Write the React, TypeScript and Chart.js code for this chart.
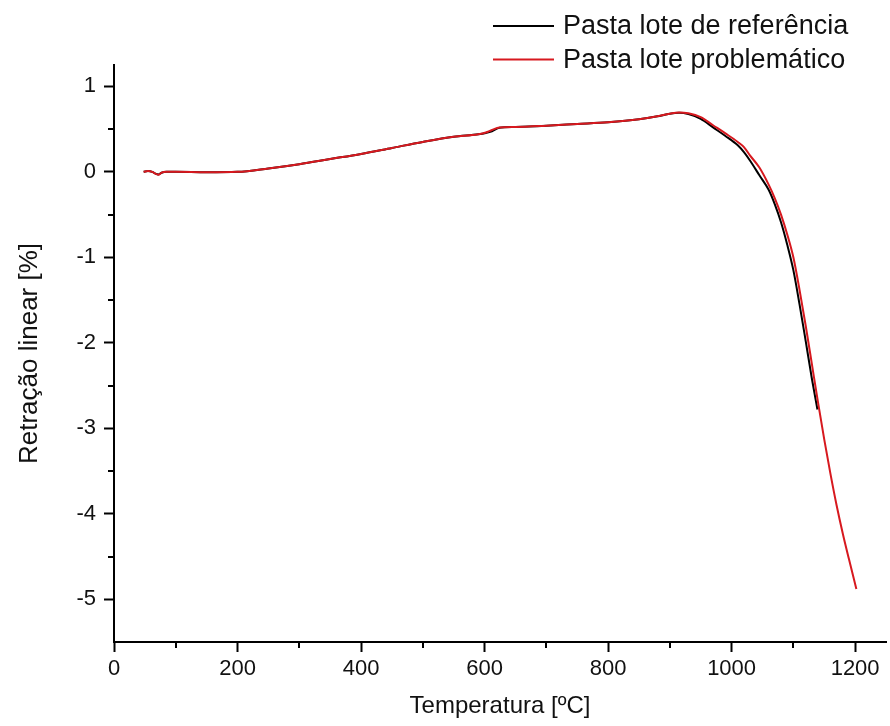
import React, { useEffect, useRef } from "react";
import { Chart, registerables } from "chart.js";

Chart.register(...registerables);

// ---- Data ----
const seriesLabels = ["Pasta lote de referência", "Pasta lote problemático"];
const seriesColors = ["#000000", "#d7191f"];

const refTemps = [
  48, 55, 62, 67, 72, 77, 85, 100, 150, 200, 250, 300, 350, 400, 450, 500, 550,
  590, 602, 612, 624, 650, 700, 750, 800, 850, 880, 900, 915, 930, 950, 970, 990,
  1010, 1020, 1030, 1045, 1060, 1070, 1080, 1090, 1100, 1110, 1120, 1130, 1139,
];
const refValues = [
  0, 0.01, 0.0, -0.02, -0.03, -0.01, 0.0, 0.0, -0.005, 0.0, 0.04, 0.09, 0.15,
  0.21, 0.28, 0.35, 0.41, 0.44, 0.455, 0.475, 0.515, 0.525, 0.54, 0.56, 0.58,
  0.615, 0.65, 0.68, 0.69, 0.675, 0.62, 0.52, 0.42, 0.31, 0.23, 0.13, -0.04,
  -0.21, -0.38, -0.59, -0.85, -1.15, -1.55, -1.98, -2.42, -2.78,
];

const probTemps = [
  48, 55, 62, 67, 72, 77, 85, 100, 150, 200, 250, 300, 350, 400, 450, 500, 550,
  590, 602, 612, 624, 650, 700, 750, 800, 850, 880, 900, 915, 930, 950, 970, 990,
  1010, 1020, 1030, 1045, 1060, 1070, 1080, 1090, 1100, 1110, 1120, 1130, 1140,
  1150, 1160, 1170, 1180, 1190, 1202,
];
const probValues = [
  0, 0.01, 0.0, -0.02, -0.035, -0.01, 0.0, 0.0, -0.005, 0.0, 0.04, 0.09, 0.15,
  0.21, 0.28, 0.35, 0.41, 0.44, 0.46, 0.49, 0.52, 0.525, 0.54, 0.56, 0.58, 0.615,
  0.65, 0.68, 0.695, 0.685, 0.64, 0.545, 0.45, 0.35, 0.29, 0.19, 0.05, -0.15,
  -0.31, -0.5, -0.73, -1.0, -1.38, -1.8, -2.25, -2.7, -3.13, -3.53, -3.9, -4.23,
  -4.53, -4.88,
];

const xTickValues = [0, 200, 400, 600, 800, 1000, 1200];
const xMinorTickValues = [100, 300, 500, 700, 900, 1100];
const yTickValues = [-5, -4, -3, -2, -1, 0, 1];
const yMinorTickValues = [-4.5, -3.5, -2.5, -1.5, -0.5, 0.5];
const xTitle = "Temperatura [ºC]";
const yTitle = "Retração linear [%]";

const FONT = "'Liberation Sans', Arial, Helvetica, sans-serif";

const minorTicksPlugin = {
  id: "minorTicks",
  afterDraw(chart: any) {
    const { ctx, chartArea, scales } = chart;
    const x = scales.x;
    const y = scales.y;
    ctx.save();
    ctx.strokeStyle = "#000";
    ctx.lineWidth = 2;
    xMinorTickValues.forEach((v) => {
      const px = Math.round(x.getPixelForValue(v));
      ctx.beginPath();
      ctx.moveTo(px, chartArea.bottom);
      ctx.lineTo(px, chartArea.bottom + 6);
      ctx.stroke();
    });
    yMinorTickValues.forEach((v) => {
      const py = Math.round(y.getPixelForValue(v));
      ctx.beginPath();
      ctx.moveTo(chartArea.left, py);
      ctx.lineTo(chartArea.left - 6, py);
      ctx.stroke();
    });
    ctx.restore();
  },
};

const legendPlugin = {
  id: "cornerLegend",
  afterDraw(chart: any) {
    const { ctx } = chart;
    ctx.save();
    ctx.font = `27px ${FONT}`;
    ctx.textBaseline = "middle";
    ctx.textAlign = "left";
    chart.data.datasets.forEach((ds: any, i: number) => {
      const yy = 26 + i * 33.5;
      ctx.strokeStyle = ds.borderColor;
      ctx.lineWidth = 2;
      ctx.beginPath();
      ctx.moveTo(493, yy);
      ctx.lineTo(554, yy);
      ctx.stroke();
      ctx.fillStyle = "#111";
      ctx.fillText(ds.label, 563, yy + 1);
    });
    ctx.restore();
  },
};

export default function App() {
  const canvasRef = useRef<HTMLCanvasElement | null>(null);

  useEffect(() => {
    if (!canvasRef.current) return;
    const chart = new Chart(canvasRef.current, {
      type: "line",
      data: {
        datasets: [
          {
            label: seriesLabels[0],
            data: refTemps.map((t, i) => ({ x: t, y: refValues[i] })),
            borderColor: seriesColors[0],
            backgroundColor: seriesColors[0],
            borderWidth: 2,
            pointRadius: 0,
            cubicInterpolationMode: "monotone",
            order: 1,
          },
          {
            label: seriesLabels[1],
            data: probTemps.map((t, i) => ({ x: t, y: probValues[i] })),
            borderColor: seriesColors[1],
            backgroundColor: seriesColors[1],
            borderWidth: 2,
            pointRadius: 0,
            cubicInterpolationMode: "monotone",
            order: 0,
          },
        ],
      },
      options: {
        responsive: true,
        maintainAspectRatio: false,
        animation: false,
        layout: { padding: { top: 65, right: 4, left: 0, bottom: 0 } },
        plugins: {
          legend: { display: false },
          tooltip: { enabled: false },
        },
        scales: {
          x: {
            type: "linear",
            min: 0,
            max: 1250,
            afterBuildTicks: (s: any) => {
              s.ticks = xTickValues.map((v) => ({ value: v }));
            },
            afterFit: (s: any) => {
              s.height = 84;
            },
            grid: {
              drawOnChartArea: false,
              drawTicks: true,
              tickLength: 10,
              tickWidth: 2,
              tickColor: "#000",
            },
            border: { display: true, color: "#000", width: 2 },
            ticks: {
              autoSkip: false,
              maxRotation: 0,
              padding: 4,
              color: "#111",
              font: { family: FONT, size: 22 },
              callback: (v: any) => String(v),
            },
            title: {
              display: true,
              text: xTitle,
              color: "#111",
              font: { family: FONT, size: 24 },
              padding: { top: 0, bottom: 5 },
            },
          },
          y: {
            type: "linear",
            min: -5.5,
            max: 1.25,
            afterBuildTicks: (s: any) => {
              s.ticks = yTickValues.map((v) => ({ value: v }));
            },
            afterFit: (s: any) => {
              s.width = 114;
            },
            grid: {
              drawOnChartArea: false,
              drawTicks: true,
              tickLength: 10,
              tickWidth: 2,
              tickColor: "#000",
            },
            border: { display: true, color: "#000", width: 2 },
            ticks: {
              autoSkip: false,
              padding: 8,
              color: "#111",
              font: { family: FONT, size: 22 },
              callback: (v: any) => String(v),
            },
            title: {
              display: true,
              text: yTitle,
              color: "#111",
              font: { family: FONT, size: 26 },
              padding: { top: 14, bottom: 0 },
            },
          },
        },
      },
      plugins: [minorTicksPlugin, legendPlugin],
    } as any);
    return () => chart.destroy();
  }, []);

  return (
    <div
      style={{
        position: "absolute",
        left: 0,
        top: 0,
        width: 890,
        height: 726,
        background: "#fff",
      }}
    >
      <canvas ref={canvasRef} />
    </div>
  );
}
